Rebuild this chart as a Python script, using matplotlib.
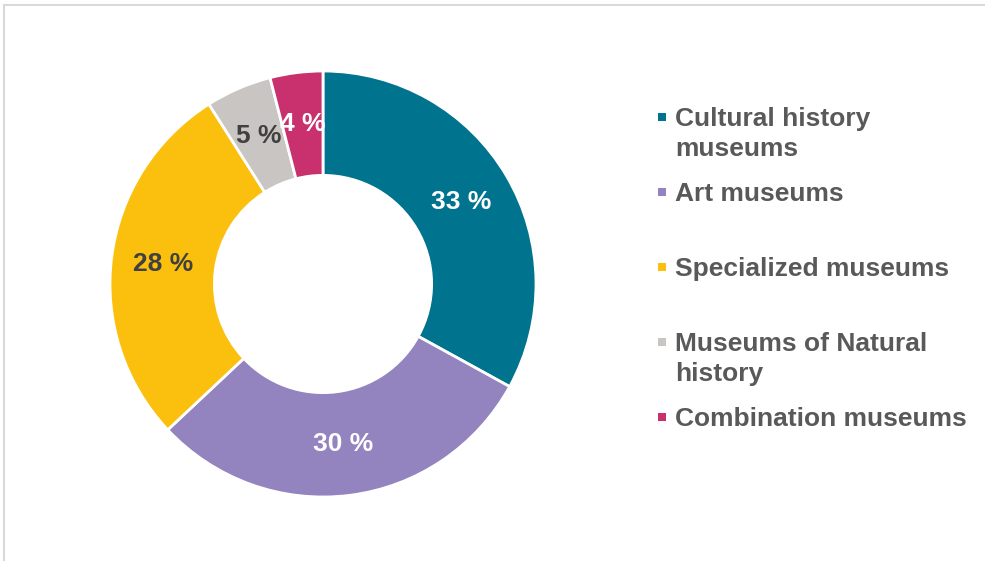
import matplotlib
matplotlib.use("Agg")
import matplotlib.pyplot as plt
from matplotlib.patches import Rectangle
from matplotlib.lines import Line2D
import numpy as np

categories = ["Cultural history\nmuseums", "Art museums", "Specialized museums",
              "Museums of Natural\nhistory", "Combination museums"]
values = [33, 30, 28, 5, 4]
colors = ["#00738F", "#9383BF", "#FBBF0E", "#C9C5C3", "#C9306E"]
label_colors = ["white", "white", "#404040", "#404040", "white"]

plt.rcParams['font.family'] = ['Liberation Sans', 'DejaVu Sans']

W, H = 985, 561
fig = plt.figure(figsize=(W / 100, H / 100), dpi=100)

# border (top and left only visible)
fig.lines.append(Line2D([3.5 / W, 1], [(H - 4.5) / H, (H - 4.5) / H], transform=fig.transFigure,
                        color="#D9D9D9", linewidth=1.5))
fig.lines.append(Line2D([3.5 / W, 3.5 / W], [0, (H - 4.5) / H], transform=fig.transFigure,
                        color="#D9D9D9", linewidth=1.5))

cx, cy, r = 323, 284, 213
ax = fig.add_axes([(cx - r) / W, (H - cy - r) / H, 2 * r / W, 2 * r / H])
wedges, _ = ax.pie(values, colors=colors, startangle=90, counterclock=False,
                   radius=1.0, wedgeprops=dict(width=0.49, edgecolor="white", linewidth=2))
cum = np.cumsum([0] + values)
for i, v in enumerate(values):
    mid = np.deg2rad(90 - (cum[i] + v / 2) * 3.6)
    rr = 0.755
    ax.text(rr * np.cos(mid), rr * np.sin(mid), f"{v} %", ha="center", va="center",
            fontsize=19, fontweight="bold", color=label_colors[i])
ax.set_xlim(-1, 1)
ax.set_ylim(-1, 1)
ax.set_aspect("equal")
ax.axis("off")

# legend
base0 = 126
line_h = 30
for i, cat in enumerate(categories):
    b = base0 + 75 * i
    nlines = cat.count("\n") + 1
    fig.patches.append(Rectangle((658 / W, (H - b + 5) / H), 8 / W, 8 / H,
                                 transform=fig.transFigure, facecolor=colors[i],
                                 edgecolor="none"))
    fig.text(675 / W, (H - b - line_h * (nlines - 1)) / H, cat, ha="left", va="baseline",
             fontsize=19, fontweight="bold", color="#595959", linespacing=1.31)

fig.savefig("out.png", dpi=100, facecolor="white")
